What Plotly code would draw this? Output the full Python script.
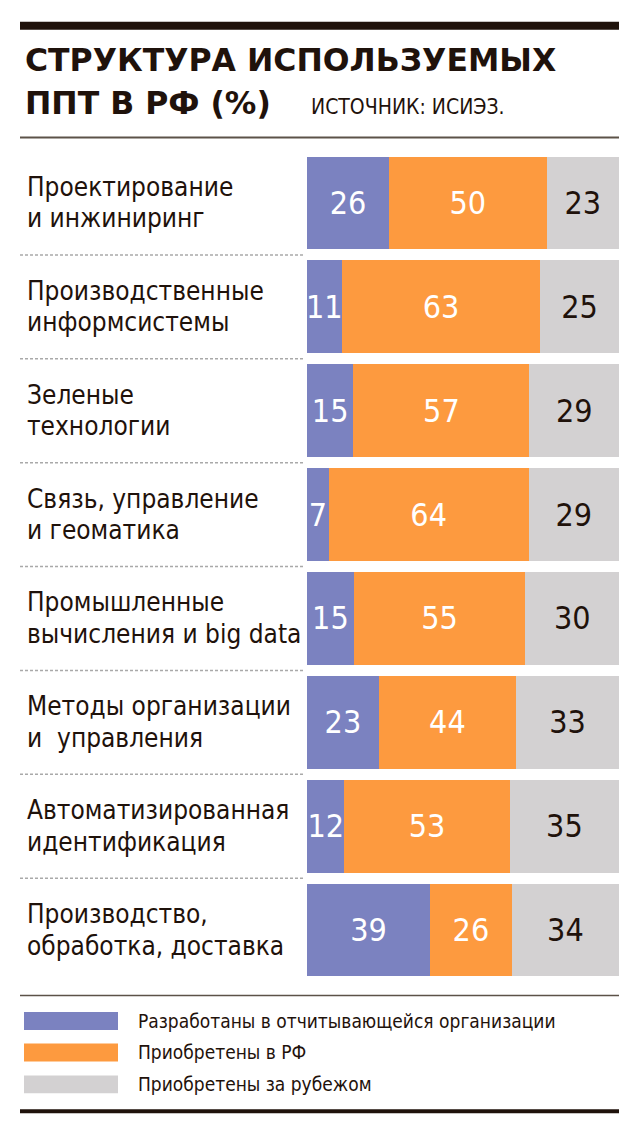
import plotly.graph_objects as go

# ---------------- data ----------------
categories = [
    "Проектирование\nи инжиниринг",
    "Производственные\nинформсистемы",
    "Зеленые\nтехнологии",
    "Связь, управление\nи геоматика",
    "Промышленные\nвычисления и big data",
    "Методы организации\nи  управления",
    "Автоматизированная\nидентификация",
    "Производство,\nобработка, доставка",
]
developed_own = [26, 11, 15, 7, 15, 23, 12, 39]
acquired_rf = [50, 63, 57, 64, 55, 44, 53, 26]
acquired_abroad = [23, 25, 29, 29, 30, 33, 35, 34]
series_names = [
    "Разработаны в отчитывающейся организации",
    "Приобретены в РФ",
    "Приобретены за рубежом",
]
title_lines = ["СТРУКТУРА ИСПОЛЬЗУЕМЫХ", "ППТ В РФ (%)"]
source_text = "ИСТОЧНИК: ИСИЭЗ."

# ---------------- styling ----------------
W, H = 639, 1135
PL, PR = 307, 619          # plot area x (px)
PT, PB = 150.5, 982.5      # plot area y (px)
colors = ["#7b82c0", "#fd9a3f", "#d3d1d2"]
text_colors = ["#ffffff", "#ffffff", "#1f120b"]
dark = "#1f120b"
thin = "#5c5248"
label_font = "Liberation Sans Narrow, Arial Narrow, DejaVu Sans Condensed, Roboto Condensed, Roboto, sans-serif"


def px(x):
    return (x - PL) / (PR - PL)


def py(y):
    return (PB - y) / (PB - PT)


ykeys = [c.replace("\n", " ") for c in categories]
fig = go.Figure()
for name, vals, col, tcol in zip(series_names,
                                 [developed_own, acquired_rf, acquired_abroad],
                                 colors, text_colors):
    fig.add_bar(
        y=ykeys, x=vals, orientation="h", name=name,
        marker=dict(color=col, line=dict(width=0)),
        text=[str(v) for v in vals], textposition="inside",
        insidetextanchor="middle", textangle=0,
        textfont=dict(family=label_font, size=32, color=tcol),
        hoverinfo="skip", showlegend=False,
    )

annotations = []
shapes = []

# category labels (two lines each)
for i, cat in enumerate(categories):
    lines = cat.split("\n")
    for j, ln in enumerate(lines):
        annotations.append(dict(
            xref="paper", yref="y", x=px(25), y=ykeys[i],
            xanchor="left", yanchor="middle",
            yshift=16 if j == 0 else -15.5,
            text=ln, showarrow=False,
            font=dict(family=label_font, size=26, color=dark),
        ))

# dashed separators between rows
for i in range(len(categories) - 1):
    shapes.append(dict(
        type="line", xref="paper", yref="y",
        x0=px(20), x1=px(305), y0=i + 0.5, y1=i + 0.5,
        line=dict(color="#a9a9a9", width=1.5, dash="3px,2px"),
    ))

# title and source
for k, yc in enumerate([59.5, 102.5]):
    annotations.append(dict(
        xref="paper", yref="paper", x=px(23), y=py(yc),
        xanchor="left", yanchor="middle", text=title_lines[k], showarrow=False,
        font=dict(family="DejaVu Sans", size=31.5, color=dark, weight=900),
    ))
annotations.append(dict(
    xref="paper", yref="paper", x=px(309), y=py(106),
    xanchor="left", yanchor="middle", text=source_text, showarrow=False,
    font=dict(family=label_font, size=21, color=dark),
))

# rules
shapes.append(dict(type="rect", xref="paper", yref="paper",
                   x0=px(20), x1=px(619), y0=py(21), y1=py(29),
                   fillcolor=dark, line=dict(width=0)))
shapes.append(dict(type="line", xref="paper", yref="paper",
                   x0=px(20), x1=px(619), y0=py(137), y1=py(137),
                   line=dict(color=thin, width=2)))
shapes.append(dict(type="line", xref="paper", yref="paper",
                   x0=px(20), x1=px(619), y0=py(996), y1=py(996),
                   line=dict(color=thin, width=1.5)))
shapes.append(dict(type="rect", xref="paper", yref="paper",
                   x0=px(20), x1=px(619), y0=py(1110), y1=py(1114),
                   fillcolor=dark, line=dict(width=0)))

# legend
leg_y = [1021.5, 1053, 1085]
for name, col, yc in zip(series_names, colors, leg_y):
    shapes.append(dict(type="rect", xref="paper", yref="paper",
                       x0=px(24), x1=px(118), y0=py(yc - 9), y1=py(yc + 9),
                       fillcolor=col, line=dict(width=0)))
    annotations.append(dict(
        xref="paper", yref="paper", x=px(136), y=py(yc),
        xanchor="left", yanchor="middle", text=name, showarrow=False,
        font=dict(family=label_font, size=19, color=dark),
    ))

fig.update_layout(
    width=W, height=H,
    margin=dict(l=PL, r=W - PR, t=PT, b=H - PB, pad=0),
    barmode="stack", barnorm="percent", bargap=0.106,
    uniformtext=dict(minsize=32, mode="show"),
    paper_bgcolor="white", plot_bgcolor="white",
    xaxis=dict(range=[0, 100], visible=False, fixedrange=True),
    yaxis=dict(range=[len(categories) - 0.5, -0.5], visible=False,
               categoryorder="array", categoryarray=ykeys),
    annotations=annotations, shapes=shapes,
    showlegend=False,
)

fig.write_html("out.html")
